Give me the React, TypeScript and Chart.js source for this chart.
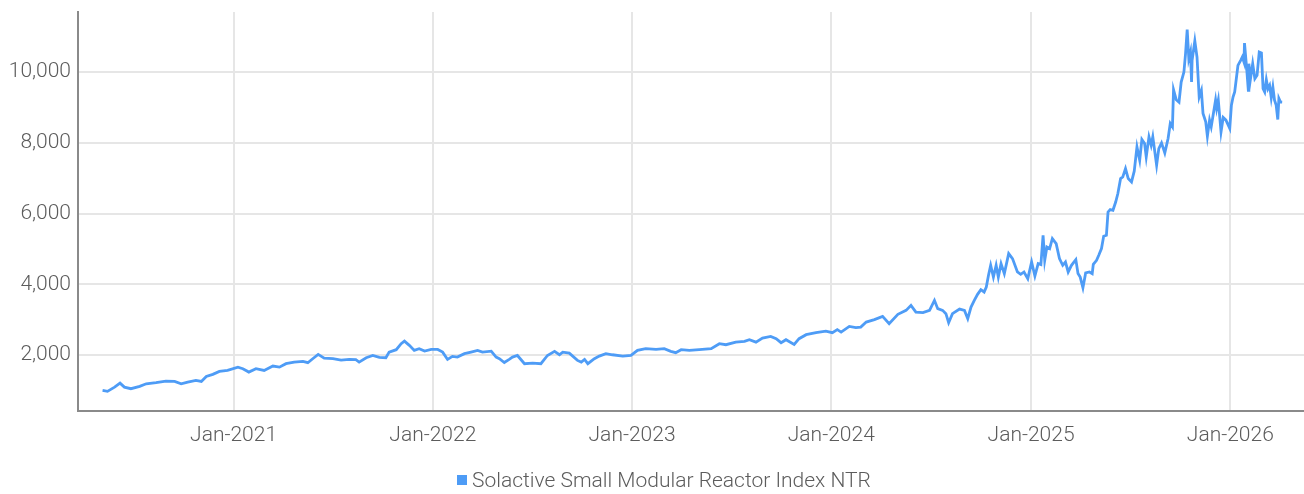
import React, { useEffect, useRef } from "react";
import { Chart, registerables } from "chart.js";

Chart.register(...registerables);

const SERIES_LABEL = "Solactive Small Modular Reactor Index NTR";

const DATES: string[] = [
  // 2020
  "2020-05-06", "2020-05-15", "2020-05-28", "2020-06-07", "2020-06-15", "2020-06-27", "2020-07-13", "2020-07-25", "2020-08-12", "2020-08-30",
  "2020-09-15", "2020-09-27", "2020-10-09", "2020-10-24", "2020-11-03", "2020-11-12", "2020-11-24", "2020-12-06", "2020-12-21",
  // 2021
  "2021-01-09", "2021-01-18", "2021-01-29", "2021-02-11", "2021-02-26", "2021-03-14", "2021-03-26", "2021-04-07", "2021-04-22", "2021-05-08",
  "2021-05-17", "2021-05-26", "2021-06-05", "2021-06-16", "2021-07-02", "2021-07-17", "2021-08-01", "2021-08-13", "2021-08-19", "2021-09-01",
  "2021-09-13", "2021-09-25", "2021-10-07", "2021-10-13", "2021-10-26", "2021-11-04", "2021-11-10", "2021-11-19", "2021-11-28", "2021-12-07",
  "2021-12-17", "2021-12-29",
  // 2022
  "2022-01-10", "2022-01-19", "2022-01-28", "2022-02-06", "2022-02-15", "2022-02-28", "2022-03-12", "2022-03-24", "2022-04-02", "2022-04-18",
  "2022-04-27", "2022-05-03", "2022-05-12", "2022-05-21", "2022-05-27", "2022-06-05", "2022-06-18", "2022-07-03", "2022-07-18", "2022-07-30",
  "2022-08-12", "2022-08-21", "2022-08-27", "2022-09-08", "2022-09-23", "2022-09-30", "2022-10-06", "2022-10-12", "2022-10-24", "2022-11-02",
  "2022-11-14", "2022-11-26", "2022-12-15", "2022-12-30",
  // 2023
  "2023-01-11", "2023-01-26", "2023-02-14", "2023-03-01", "2023-03-13", "2023-03-22", "2023-04-01", "2023-04-16", "2023-05-04", "2023-05-26",
  "2023-06-10", "2023-06-22", "2023-07-10", "2023-07-26", "2023-08-04", "2023-08-16", "2023-08-28", "2023-09-12", "2023-09-22", "2023-10-01",
  "2023-10-10", "2023-10-25", "2023-11-03", "2023-11-16", "2023-12-04", "2023-12-22",
  // 2024
  "2024-01-03", "2024-01-12", "2024-01-19", "2024-02-03", "2024-02-15", "2024-02-24", "2024-03-05", "2024-03-20", "2024-04-04", "2024-04-16",
  "2024-05-02", "2024-05-17", "2024-05-26", "2024-06-04", "2024-06-17", "2024-06-29", "2024-07-08", "2024-07-14", "2024-07-23", "2024-07-29",
  "2024-08-03", "2024-08-10", "2024-08-23", "2024-09-01", "2024-09-07", "2024-09-13", "2024-09-19", "2024-09-25", "2024-10-01", "2024-10-07",
  "2024-10-11", "2024-10-15", "2024-10-19", "2024-10-24", "2024-10-29", "2024-11-02", "2024-11-07", "2024-11-13", "2024-11-21", "2024-11-28",
  "2024-12-07", "2024-12-13", "2024-12-19", "2024-12-26",
  // 2025
  "2025-01-02", "2025-01-08", "2025-01-14", "2025-01-19", "2025-01-23", "2025-01-26", "2025-01-30", "2025-02-04", "2025-02-09", "2025-02-16",
  "2025-02-22", "2025-02-28", "2025-03-05", "2025-03-10", "2025-03-16", "2025-03-24", "2025-03-28", "2025-04-01", "2025-04-06", "2025-04-11",
  "2025-04-18", "2025-04-23", "2025-04-25", "2025-05-01", "2025-05-05", "2025-05-10", "2025-05-14", "2025-05-19", "2025-05-22", "2025-05-26",
  "2025-05-31", "2025-06-05", "2025-06-09", "2025-06-14", "2025-06-18", "2025-06-23", "2025-06-28", "2025-07-04", "2025-07-09", "2025-07-14",
  "2025-07-19", "2025-07-23", "2025-07-28", "2025-07-31", "2025-08-05", "2025-08-09", "2025-08-12", "2025-08-19", "2025-08-23", "2025-08-28",
  "2025-09-03", "2025-09-09", "2025-09-13", "2025-09-17", "2025-09-19", "2025-09-24", "2025-09-29", "2025-10-03", "2025-10-08", "2025-10-11",
  "2025-10-14", "2025-10-17", "2025-10-20", "2025-10-22", "2025-10-23", "2025-10-28", "2025-11-01", "2025-11-05", "2025-11-09", "2025-11-12",
  "2025-11-17", "2025-11-20", "2025-11-24", "2025-11-27", "2025-12-01", "2025-12-05", "2025-12-07", "2025-12-10", "2025-12-15", "2025-12-19",
  "2025-12-24", "2025-12-31",
  // 2026
  "2026-01-03", "2026-01-06", "2026-01-09", "2026-01-12", "2026-01-15", "2026-01-20", "2026-01-23", "2026-01-26", "2026-01-27", "2026-01-31",
  "2026-02-03", "2026-02-04", "2026-02-07", "2026-02-11", "2026-02-15", "2026-02-19", "2026-02-23", "2026-02-27", "2026-03-02", "2026-03-05",
  "2026-03-08", "2026-03-11", "2026-03-14", "2026-03-17", "2026-03-20", "2026-03-23", "2026-03-26", "2026-03-29", "2026-03-31", "2026-04-03",
  "2026-04-06",
];

const VALUES: number[] = [
  // 2020
  1000, 975, 1095, 1208, 1095, 1050, 1115, 1190, 1220, 1265,
  1255, 1190, 1236, 1285, 1255, 1397, 1455, 1540, 1567,
  // 2021
  1660, 1615, 1520, 1615, 1567, 1690, 1660, 1757, 1802, 1822,
  1785, 1898, 2020, 1915, 1898, 1858, 1878, 1870, 1802, 1926,
  1990, 1935, 1926, 2085, 2153, 2323, 2396, 2275, 2133, 2181,
  2113, 2161,
  // 2022
  2161, 2085, 1878, 1963, 1943, 2040, 2085, 2133, 2085, 2113,
  1943, 1900, 1790, 1880, 1943, 1990, 1757, 1774, 1757, 1990,
  2105, 2010, 2085, 2057, 1850, 1802, 1878, 1757, 1898, 1972,
  2040, 2010, 1972, 1990,
  // 2023
  2133, 2181, 2161, 2181, 2105, 2068, 2153, 2133, 2153, 2181,
  2323, 2294, 2368, 2388, 2435, 2368, 2481, 2529, 2464, 2351,
  2435, 2303, 2464, 2577, 2634, 2679,
  // 2024
  2634, 2719, 2651, 2812, 2775, 2792, 2934, 3002, 3095, 2888,
  3152, 3265, 3407, 3217, 3200, 3265, 3548, 3313, 3265, 3171,
  2917, 3171, 3300, 3265, 3030, 3359, 3548, 3718, 3851, 3784,
  3925, 4256, 4539, 4207, 4539, 4207, 4587, 4304, 4870, 4728,
  4351, 4284, 4351, 4162,
  // 2025
  4632, 4236, 4587, 4560, 5388, 4680, 5057, 5011, 5294, 5152,
  4728, 4539, 4632, 4351, 4539, 4700, 4304, 4207, 3907, 4322,
  4351, 4304, 4567, 4680, 4822, 5011, 5360, 5388, 6047, 6115,
  6094, 6329, 6567, 6991, 7037, 7274, 6990, 6896, 7200, 7887,
  7510, 8096, 7983, 7604, 8170, 7935, 8170, 7368, 7840, 8000,
  7717, 8124, 8549, 8453, 9502, 9219, 9153, 9720, 10002, 10521,
  11200, 10380, 10569, 9720, 10333, 10880, 10427, 9295, 9484, 8831,
  8594, 8189, 8642, 8453, 8831, 9208, 8972, 9208, 8311, 8719,
  8642, 8406,
  // 2026
  9066, 9295, 9437, 9814, 10191, 10333, 10427, 10285, 10823, 10096,
  9484, 10238, 9814, 10238, 9814, 9908, 10569, 10541, 9531, 9437,
  9786, 9531, 9625, 9276, 9578, 9208, 9066, 8661, 9256, 9153,
  9150,
];

const X_TICK_DATES = ["2021-01-01", "2022-01-01", "2023-01-01", "2024-01-01", "2025-01-01", "2026-01-01"];
const Y_TICKS = [2000, 4000, 6000, 8000, 10000];
const X_RANGE = ["2020-03-22", "2026-05-16"];
const Y_RANGE = [420, 11700];

const MONTHS = ["Jan", "Feb", "Mar", "Apr", "May", "Jun", "Jul", "Aug", "Sep", "Oct", "Nov", "Dec"];

const LINE_COLOR = "#4e9cf6";
const TEXT_COLOR = "#5c5c5c";
const GRID_COLOR = "#e6e6e6";
const AXIS_COLOR = "#8a8a8a";
const FONT_FAMILY = "Roboto, sans-serif";
const FONT_SIZE = 21;
const FONT_WEIGHT = 300;

const toTs = (d: string) => Date.parse(d + "T00:00:00Z");

export default function App() {
  const canvasRef = useRef<HTMLCanvasElement | null>(null);

  useEffect(() => {
    document.body.style.margin = "0";
    const canvas = canvasRef.current;
    if (!canvas) return;
    const points = DATES.map((d, i) => ({ x: toTs(d), y: VALUES[i] }));
    const chart = new Chart(canvas, {
      type: "line",
      data: {
        datasets: [
          {
            label: SERIES_LABEL,
            data: points,
            borderColor: LINE_COLOR,
            backgroundColor: LINE_COLOR,
            borderWidth: 2.8,
            pointRadius: 0,
            tension: 0,
            fill: false,
          },
        ],
      },
      options: {
        responsive: false,
        animation: false,
        devicePixelRatio: 1,
        layout: { padding: { top: 12, right: 0, left: 0, bottom: 0 } },
        plugins: {
          legend: { display: false },
          tooltip: { enabled: false },
        },
        scales: {
          x: {
            type: "linear",
            min: toTs(X_RANGE[0]),
            max: toTs(X_RANGE[1]),
            afterBuildTicks: (scale: any) => {
              scale.ticks = X_TICK_DATES.map((d) => ({ value: toTs(d) }));
            },
            afterFit: (scale: any) => {
              scale.height = 83;
              scale.paddingLeft = 0;
              scale.paddingRight = 0;
            },
            grid: { color: GRID_COLOR, lineWidth: 2, drawTicks: false },
            border: { color: AXIS_COLOR, width: 2 },
            ticks: {
              padding: 12,
              color: TEXT_COLOR,
              maxRotation: 0,
              autoSkip: false,
              font: { family: FONT_FAMILY, size: FONT_SIZE, weight: FONT_WEIGHT },
              callback: (v: any) => {
                const dt = new Date(Number(v));
                return `${MONTHS[dt.getUTCMonth()]}-${dt.getUTCFullYear()}`;
              },
            },
          },
          y: {
            type: "linear",
            min: Y_RANGE[0],
            max: Y_RANGE[1],
            afterBuildTicks: (scale: any) => {
              scale.ticks = Y_TICKS.map((v) => ({ value: v }));
            },
            afterFit: (scale: any) => {
              scale.width = 78;
              scale.paddingTop = 0;
              scale.paddingBottom = 0;
            },
            grid: { color: GRID_COLOR, lineWidth: 2, drawTicks: false },
            border: { color: AXIS_COLOR, width: 2 },
            ticks: {
              padding: 7,
              color: TEXT_COLOR,
              font: { family: FONT_FAMILY, size: FONT_SIZE, weight: FONT_WEIGHT },
              callback: (v: any) => Number(v).toLocaleString("en-US"),
            },
          },
        },
      },
    });
    return () => chart.destroy();
  }, []);

  return (
    <div style={{ position: "absolute", left: 0, top: 0, width: 1304, height: 494 }}>
      <canvas ref={canvasRef} width={1304} height={494} style={{ display: "block" }} />
      <div
        style={{
          position: "absolute",
          left: 457,
          top: 466,
          height: 28,
          display: "flex",
          alignItems: "center",
          fontFamily: FONT_FAMILY,
          fontSize: FONT_SIZE,
          fontWeight: FONT_WEIGHT,
          color: TEXT_COLOR,
          whiteSpace: "nowrap",
        }}
      >
        <span style={{ width: 10, height: 10, background: LINE_COLOR, marginRight: 5, display: "inline-block" }} />
        <span>{SERIES_LABEL}</span>
      </div>
    </div>
  );
}
